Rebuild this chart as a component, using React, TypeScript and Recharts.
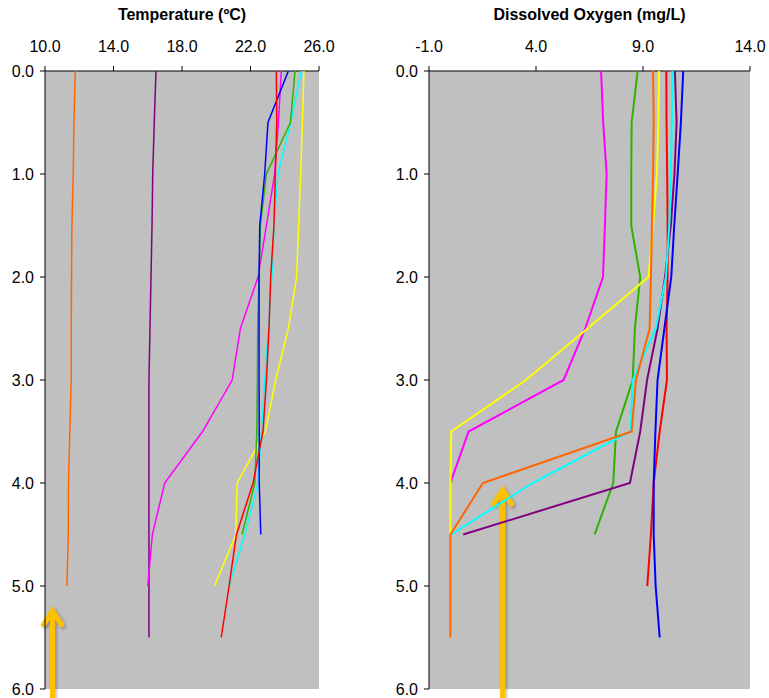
import React from 'react';
import { ScatterChart, Scatter, XAxis, YAxis, CartesianGrid, ReferenceLine } from 'recharts';

const depths = [0, 0.5, 1.0, 1.5, 2.0, 2.5, 3.0, 3.5, 4.0, 4.5, 5.0, 5.5];

// Temperature (ºC) by depth
const tempRed = [23.51, 23.53, 23.45, 23.37, 23.18, 23.08, 22.93, 22.73, 22.15, 21.18, 20.75, 20.29];
const tempMagenta = [23.8, 23.63, 23.41, 22.93, 22.44, 21.41, 20.93, 19.2, 16.99, 16.27, 16.0, null];
const tempBlue = [24.21, 23.02, 22.83, 22.54, 22.5, 22.5, 22.5, 22.51, 22.51, 22.6, null, null];
const tempGreen = [24.6, 24.33, 22.93, 22.58, 22.5, 22.42, 22.4, 22.37, 22.25, 21.51, null, null];
const tempCyan = [24.97, 24.35, 23.6, 23.37, 23.25, 23.05, 22.83, 22.64, 22.44, 21.67, 20.75, null];
const tempYellow = [25.12, 25.03, 24.93, 24.81, 24.69, 24.21, 23.47, 22.87, 21.22, 21.14, 19.9, null];
const tempOrange = [11.77, 11.69, 11.65, 11.57, 11.55, 11.53, 11.53, 11.45, 11.37, 11.36, 11.28, null];
const tempPurple = [16.48, 16.38, 16.29, 16.25, 16.19, 16.13, 16.07, 16.07, 16.07, 16.07, 16.07, 16.07];

// Dissolved oxygen (mg/L) by depth
const doMagenta = [7.04, 7.14, 7.3, 7.22, 7.13, 6.3, 5.29, 0.85, 0.0, null, null, null];
const doGreen = [8.75, 8.47, 8.45, 8.45, 8.87, 8.62, 8.52, 7.74, 7.61, 6.74, null, null];
const doOrange = [9.47, 9.5, 9.47, 9.42, 9.37, 9.31, 8.67, 8.47, 1.52, 0.0, 0.0, 0.0];
const doYellow = [9.75, 9.72, 9.65, 9.47, 9.26, 6.41, 3.53, 0.04, 0.0, 0.0, null, null];
const doRed = [10.09, 10.1, 10.13, 10.15, 10.15, 10.1, 10.12, 9.78, 9.5, 9.37, 9.2, null];
const doCyan = [10.37, 10.35, 10.3, 10.23, 10.07, 9.6, 8.52, 8.41, 3.84, 0.04, null, null];
const doPurple = [10.49, 10.57, 10.47, 10.3, 10.03, 9.68, 9.19, 8.87, 8.39, 0.6, null, null];
const doBlue = [10.88, 10.77, 10.62, 10.46, 10.32, 10.0, 9.68, 9.58, 9.5, 9.5, 9.59, 9.78];

const depthTicks = [0, 1, 2, 3, 4, 5, 6];
const tempTicks = [10, 14, 18, 22, 26];
const doTicks = [-1, 4, 9, 14];

const COLORS = {
  red: '#FF0000',
  magenta: '#FF00FF',
  blue: '#0000FF',
  green: '#2DB300',
  cyan: '#00FFFF',
  yellow: '#FFFF00',
  orange: '#FF6600',
  purple: '#800080',
};

const toPoints = (vals: (number | null)[]) =>
  depths.map((d, i) => ({ d, v: vals[i] })).filter((p) => p.v !== null && p.v !== undefined);

const tempSeries = [
  { name: 'orange', vals: tempOrange },
  { name: 'purple', vals: tempPurple },
  { name: 'magenta', vals: tempMagenta },
  { name: 'yellow', vals: tempYellow },
  { name: 'cyan', vals: tempCyan },
  { name: 'green', vals: tempGreen },
  { name: 'blue', vals: tempBlue },
  { name: 'red', vals: tempRed },
];

const doSeries = [
  { name: 'magenta', vals: doMagenta },
  { name: 'green', vals: doGreen },
  { name: 'red', vals: doRed },
  { name: 'blue', vals: doBlue },
  { name: 'purple', vals: doPurple },
  { name: 'cyan', vals: doCyan },
  { name: 'yellow', vals: doYellow },
  { name: 'orange', vals: doOrange },
];

const FONT = '"Liberation Sans", Arial, Helvetica, sans-serif';
const tickStyle = { fill: '#000', fontSize: 16, fontFamily: FONT };

const NoDot = () => <g />;

const Arrow = (p: any) => {
  const { x1, y1, x2, y2 } = p;
  return (
    <g>
      <defs>
        <filter id="arrowShadow" x="-50%" y="-50%" width="200%" height="200%">
          <feDropShadow dx="1.5" dy="1.5" stdDeviation="1.5" floodColor="#000" floodOpacity="0.35" />
        </filter>
      </defs>
      <g filter="url(#arrowShadow)">
        <line x1={x1} y1={y1} x2={x2} y2={y2 + 5} stroke="#FFC000" strokeWidth={5} />
        <polyline
          points={`${x2 - 9},${y2 + 19} ${x2},${y2 + 5} ${x2 + 9},${y2 + 19}`}
          fill="none"
          stroke="#FFC000"
          strokeWidth={5}
          strokeLinejoin="miter"
          strokeLinecap="round"
        />
      </g>
    </g>
  );
};

function Panel(props: {
  width: number;
  right: number;
  domain: [number, number];
  ticks: number[];
  series: { name: string; vals: (number | null)[] }[];
  strokeWidth: number;
  arrowX: number;
  arrowTip: number;
}) {
  const { width, right, domain, ticks, series, strokeWidth, arrowX, arrowTip } = props;
  return (
    <ScatterChart width={width} height={698} margin={{ top: 41, right, bottom: 9, left: 0 }}>
      <CartesianGrid fill="#C0C0C0" horizontal={false} vertical={false} stroke="none" />
      <XAxis
        type="number"
        dataKey="v"
        orientation="top"
        domain={domain}
        ticks={ticks}
        allowDataOverflow
        height={30}
        tickSize={5}
        tickMargin={14}
        tickFormatter={(v: number) => v.toFixed(1)}
        tick={tickStyle}
        axisLine={{ stroke: '#000' }}
        tickLine={{ stroke: '#000' }}
        interval={0}
      />
      <YAxis
        type="number"
        dataKey="d"
        domain={[0, 6]}
        ticks={depthTicks}
        reversed
        allowDataOverflow
        width={45}
        tickSize={5}
        tickMargin={6}
        tickFormatter={(v: number) => v.toFixed(1)}
        tick={tickStyle}
        axisLine={{ stroke: '#000' }}
        tickLine={{ stroke: '#000' }}
        interval={0}
      />
      {series.map((s) => (
        <Scatter
          key={s.name}
          data={toPoints(s.vals)}
          fill={(COLORS as any)[s.name]}
          line={{ strokeWidth }}
          lineType="joint"
          shape={NoDot}
          isAnimationActive={false}
        />
      ))}
      <ReferenceLine
        segment={[
          { x: arrowX, y: 6.09 },
          { x: arrowX, y: arrowTip },
        ]}
        ifOverflow="visible"
        shape={Arrow}
      />
    </ScatterChart>
  );
}

export default function App() {
  const titleStyle: React.CSSProperties = {
    position: 'absolute',
    top: 7,
    fontFamily: FONT,
    fontWeight: 'bold',
    fontSize: 16,
    lineHeight: '16px',
    textAlign: 'center',
    color: '#000',
    whiteSpace: 'nowrap',
  };
  return (
    <div style={{ position: 'absolute', left: 0, top: 0, width: 769, height: 698, background: '#fff', fontFamily: FONT }}>
      <div style={{ position: 'absolute', left: 0, top: 0 }}>
        <Panel
          width={360}
          right={41}
          domain={[10, 26]}
          ticks={tempTicks}
          series={tempSeries}
          strokeWidth={1.5}
          arrowX={10.44}
          arrowTip={5.19}
        />
      </div>
      <div style={{ position: 'absolute', left: 384, top: 0 }}>
        <Panel
          width={385}
          right={19}
          domain={[-1, 14]}
          ticks={doTicks}
          series={doSeries}
          strokeWidth={2}
          arrowX={2.44}
          arrowTip={4.02}
        />
      </div>
      <div style={{ ...titleStyle, left: 45, width: 274 }}>Temperature (ºC)</div>
      <div style={{ ...titleStyle, left: 429, width: 321 }}>Dissolved Oxygen (mg/L)</div>
    </div>
  );
}
